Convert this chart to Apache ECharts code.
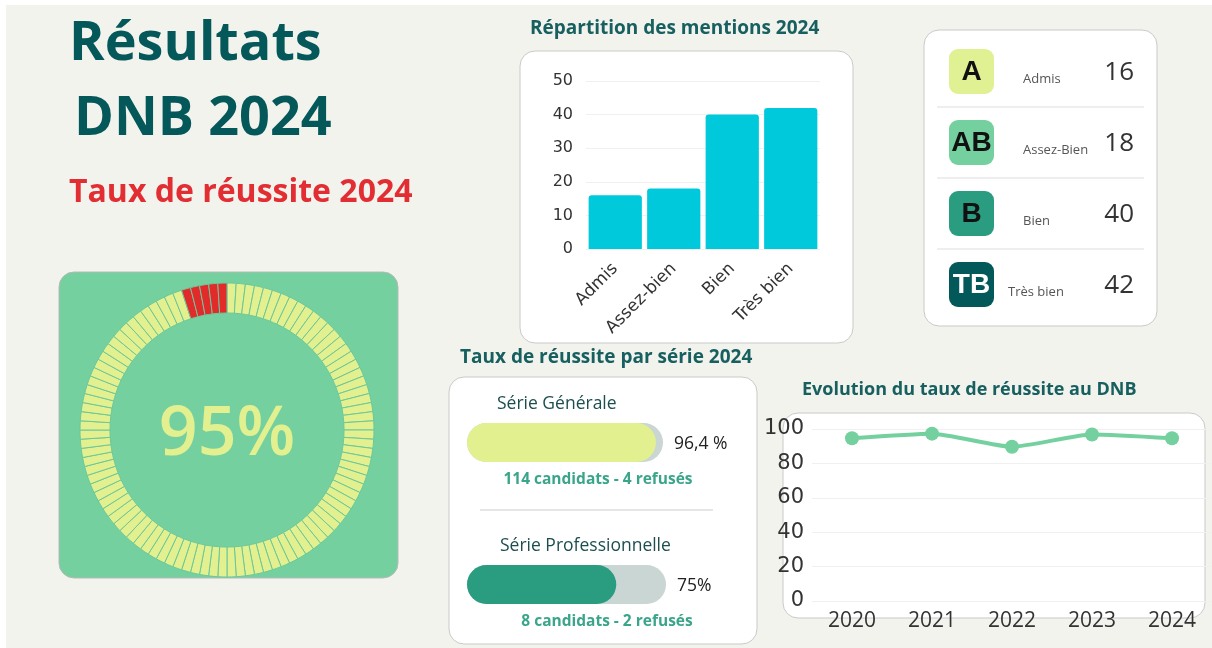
<!DOCTYPE html>
<html>
<head>
<meta charset="utf-8">
<script src="https://cdn.jsdelivr.net/npm/echarts@6/dist/echarts.min.js"></script>
<style>
  html, body { margin: 0; padding: 0; background: #fff; }
  #main { width: 1212px; height: 648px; }
</style>
</head>
<body>
<div id="main"></div>
<script>
// données
const tauxGlobal = 95;
const nbSegments = 100;

const mentions = ['Admis', 'Assez-bien', 'Bien', 'Très bien'];
const mentionCounts = [16, 18, 40, 42];

const tableCodes = ['A', 'AB', 'B', 'TB'];
const tableLabels = ['Admis', 'Assez-Bien', 'Bien', 'Très bien'];

const serieNames = ['Série Générale', 'Série Professionnelle'];
const serieRates = [96.4, 75];
const serieRateLabels = ['96,4 %', '75%'];
const serieCandidats = [114, 8];
const serieRefuses = [4, 2];

const years = ['2020', '2021', '2022', '2023', '2024'];
const yearRates = [94.6, 97.3, 89.7, 96.8, 94.6];

// couleurs
const TEAL = '#05585a';
const YELLOW = '#e2f08f';
const GREEN = '#74d19f';
const MID = '#2a9d80';
const badgeColors = ['#e0f193', '#74d19f', '#2a9d80', '#03595a'];
const badgeText = ['#111', '#111', '#111', '#fff'];

const chart = echarts.init(document.getElementById('main'));

// segments de l'anneau : un par pourcent
let ringData = [];
for (let i = 0; i < nbSegments; i++) {
  ringData.push({
    value: 1,
    itemStyle: { color: i < tauxGlobal ? YELLOW : '#e22a2a' }
  });
}

function card(x, y, w, h, fill, stroke) {
  return {
    type: 'rect', z: -10,
    shape: { x: x, y: y, width: w, height: h, r: 15 },
    style: { fill: fill, stroke: stroke, lineWidth: 1 }
  };
}
function txt(x, y, text, font, fill, align) {
  return {
    type: 'text', x: x, y: y,
    style: { text: text, font: font, fill: fill, textAlign: align || 'left', textVerticalAlign: 'middle' }
  };
}
function line(x1, x2, y, color, w) {
  return {
    type: 'line', z: -5,
    shape: { x1: x1, y1: y, x2: x2, y2: y },
    style: { stroke: color, lineWidth: w || 1 }
  };
}

let graphics = [
  { type: 'rect', z: -20, shape: { x: 6, y: 5, width: 1206, height: 643 }, style: { fill: '#f3f3ee' } },
  txt(69, 45, 'Résultats', 'bold 54px "Open Sans"', TEAL),
  txt(74, 120, 'DNB 2024', 'bold 54px "Open Sans"', TEAL),
  txt(69, 193, 'Taux de réussite 2024', 'bold 32px "Open Sans"', '#e22d33'),
  // carte jauge
  card(59, 272, 339, 306, GREEN, '#b8b8b8'),
  txt(227, 436, tauxGlobal + '%', '600 68px "Open Sans"', YELLOW, 'center'),
  // carte histogramme
  txt(530, 29, 'Répartition des mentions 2024', 'bold 19px "Open Sans"', '#17605f'),
  card(520, 51, 333, 292, '#ffffff', '#c9c9c9'),
  // carte tableau
  card(924, 30, 233, 296, '#ffffff', '#c9c9c9'),
  // carte séries
  txt(460, 358, 'Taux de réussite par série 2024', 'bold 19px "Open Sans"', '#17605f'),
  card(449, 377, 308, 267, '#ffffff', '#c9c9c9'),
  line(480, 713, 510, '#e6e6e6', 2),
  // carte courbe
  txt(802, 390, 'Evolution du taux de réussite au DNB', 'bold 18px "Open Sans"', '#17605f'),
  card(783, 413, 422, 205, '#ffffff', '#c9c9c9')
];

// lignes du tableau des mentions
const rowTop = [49, 120, 191, 262];
const labelX = [1023, 1023, 1023, 1008];
for (let i = 0; i < tableCodes.length; i++) {
  graphics.push({
    type: 'rect', z: -5,
    shape: { x: 949, y: rowTop[i], width: 45, height: 45, r: 9 },
    style: { fill: badgeColors[i] }
  });
  graphics.push(txt(971.5, rowTop[i] + 23, tableCodes[i], 'bold 28px "Liberation Sans"', badgeText[i], 'center'));
  graphics.push(txt(labelX[i], rowTop[i] + 30, tableLabels[i], '13px "Open Sans"', '#555', 'left'));
  graphics.push(txt(1134, rowTop[i] + 24, String(mentionCounts[i]), '26px "Open Sans"', '#333', 'right'));
  if (i > 0) graphics.push(line(937, 1144, rowTop[i] - 13, '#dddddd', 1));
}

// textes des séries
const serieTitleX = [497, 500];
const serieBarTop = [423, 565];
const serieBarW = [196, 199];
const serieInfoX = [598, 607];
for (let i = 0; i < serieNames.length; i++) {
  graphics.push(txt(serieTitleX[i], serieBarTop[i] - 19, serieNames[i], '17.5px "Open Sans"', '#1d4e4f'));
  graphics.push(txt(467 + serieBarW[i] + 11, serieBarTop[i] + 21, serieRateLabels[i], '17.5px "Open Sans"', '#222'));
  graphics.push(txt(serieInfoX[i], serieBarTop[i] + 57,
    serieCandidats[i] + ' candidats - ' + serieRefuses[i] + ' refusés', 'bold 15.5px "Open Sans"', '#3aa58a', 'center'));
}

let option = {
  backgroundColor: '#ffffff',
  animation: false,
  graphic: { elements: graphics },
  grid: [
    { left: 586, top: 81, width: 234, height: 168 },
    { left: 812, top: 429, width: 401, height: 172 },
    { left: 467, top: serieBarTop[0], width: serieBarW[0], height: 39 },
    { left: 467, top: serieBarTop[1], width: serieBarW[1], height: 39 }
  ],
  xAxis: [
    {
      gridIndex: 0, type: 'category', data: mentions,
      axisLine: { show: false }, axisTick: { show: false },
      axisLabel: { rotate: 45, margin: 17, fontSize: 17, color: '#333', fontFamily: 'DejaVu Sans' }
    },
    {
      gridIndex: 1, type: 'category', data: years,
      axisLine: { show: false }, axisTick: { show: false },
      axisLabel: { margin: 10, fontSize: 21, color: '#333', fontFamily: 'Open Sans' }
    },
    { gridIndex: 2, type: 'value', min: 0, max: 100, show: false },
    { gridIndex: 3, type: 'value', min: 0, max: 100, show: false }
  ],
  yAxis: [
    {
      gridIndex: 0, type: 'value', min: 0, max: 50, interval: 10,
      axisLabel: { margin: 13, fontSize: 16, color: '#333', fontFamily: 'DejaVu Sans' },
      splitLine: { lineStyle: { color: '#f0f0f0' } }
    },
    {
      gridIndex: 1, type: 'value', min: 0, max: 100, interval: 20,
      axisLabel: { margin: 8, fontSize: 21, color: '#333', fontFamily: 'DejaVu Sans' },
      splitLine: { lineStyle: { color: '#f0f0f0' } }
    },
    { gridIndex: 2, type: 'category', data: [serieNames[0]], show: false },
    { gridIndex: 3, type: 'category', data: [serieNames[1]], show: false }
  ],
  series: [
    {
      type: 'pie', silent: true,
      center: [227, 430], radius: [117, 147],
      startAngle: 90, clockwise: true,
      label: { show: false }, labelLine: { show: false },
      itemStyle: { borderColor: '#6cc89a', borderWidth: 1 },
      data: ringData
    },
    {
      type: 'bar', xAxisIndex: 0, yAxisIndex: 0,
      data: mentionCounts, barCategoryGap: '9%',
      itemStyle: { color: '#00c9dc', borderRadius: [3, 3, 0, 0] }
    },
    {
      type: 'line', xAxisIndex: 1, yAxisIndex: 1,
      data: yearRates, smooth: 0.2,
      symbol: 'circle', symbolSize: 14,
      lineStyle: { color: GREEN, width: 4 },
      itemStyle: { color: GREEN }
    },
    {
      type: 'bar', xAxisIndex: 2, yAxisIndex: 2,
      data: [serieRates[0]], barWidth: 39,
      showBackground: true,
      backgroundStyle: { color: '#c9d6d3', borderRadius: 20 },
      itemStyle: { color: YELLOW, borderRadius: 20 }
    },
    {
      type: 'bar', xAxisIndex: 3, yAxisIndex: 3,
      data: [serieRates[1]], barWidth: 39,
      showBackground: true,
      backgroundStyle: { color: '#c9d6d3', borderRadius: 20 },
      itemStyle: { color: MID, borderRadius: 20 }
    }
  ]
};

chart.setOption(option);
</script>
</body>
</html>
